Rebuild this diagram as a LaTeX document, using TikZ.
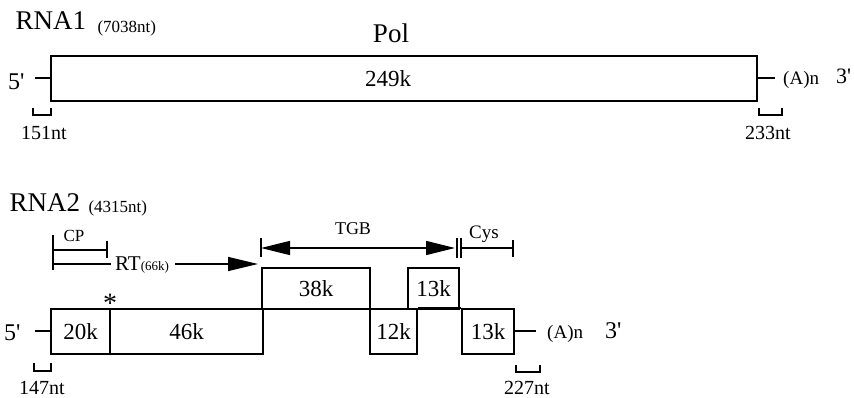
\documentclass[tikz,border=0pt]{standalone}
\usepackage{fontspec}
\setmainfont{Liberation Serif}
\usetikzlibrary{arrows.meta}
\newcommand\fsz[1]{\fontsize{#1}{#1}\selectfont}
\newcommand\pr{\textquotesingle}
\begin{document}
\begin{tikzpicture}[x=1pt,y=-1pt,
  bx/.style={draw,line width=1.6pt,inner sep=0pt,font=\fsz{23}},
  ln/.style={line width=1.3pt},
  tail/.style={line width=2.6pt},
  brk/.style={line width=1.6pt},
  big/.style={font=\fsz{27}},
  num/.style={font=\fsz{23}},
  sml/.style={font=\fsz{17}},
  ntl/.style={font=\fsz{20},inner sep=0pt},
  arr/.style={ln,-{Triangle[length=30pt,width=14pt]}},
  darr/.style={ln,{Triangle[length=29pt,width=14pt]}-{Triangle[length=29pt,width=14pt]}}]
\useasboundingbox (0,0) rectangle (854,398);
% ---------- RNA1 ----------
\node[big,anchor=base west] (t1) at (12,30) {RNA1};
\node[sml,anchor=base west] (t1n) at (94,33) {(7038nt)};
\node[big,anchor=base] (pol) at (391,43) {Pol};
\node[bx,minimum width=706,minimum height=45] (r1) at (404,78.5) {};
\node[num,anchor=base] (r1l) at (388,87) {249k};
\node[font=\fsz{24},anchor=base west,inner sep=0pt] (r1f) at (8,90) {5\pr};
\coordinate (r1fd) at (35,78);
\draw[tail] (r1fd) -- (r1fd -| r1.west);
\coordinate (r1td) at (775,78);
\draw[tail] (r1td -| r1.east) -- (r1td);
\node[font=\fsz{19},anchor=base west,inner sep=0pt] (r1a) at (783,85) {(A)n};
\node[font=\fsz{22},anchor=base west,inner sep=0pt] (r13) at (836,84) {3\pr};
\draw[brk] (33,108) -- (33,115) -- (51,115) -- (51,108);
\node[ntl,anchor=base] (r1b5) at (44,140) {151nt};
\draw[brk] (759,108) -- (759,115) -- (782,115) -- (782,108);
\node[ntl,anchor=base] (r1b3) at (768,140) {233nt};
% ---------- RNA2 ----------
\node[big,anchor=base west] (t2) at (6,212) {RNA2};
\node[sml,anchor=base west] (t2n) at (85,213) {(4315nt)};
% CP / RT
\coordinate (cpA) at (53,235);
\coordinate (cpB) at (53,270);
\draw[ln] (cpA) -- (cpB);
\coordinate (cpS) at (53,250);
\coordinate (cpE) at (107,250);
\draw[ln] (cpS) -- (cpE);
\draw[ln] (107,241) -- (107,258);
\node[sml,anchor=base] (cp) at (74,242) {CP};
\node[font=\fsz{21},anchor=base west,inner sep=0pt] (rt) at (115,270) {RT{\fsz{13}(66k)}};
\coordinate (rtS) at (53,264);
\coordinate (rtE) at (258,264);
\draw[ln] (rtS) -- ([xshift=-4pt]rt.west |- rtS);
\draw[arr] ([xshift=6pt]rt.east |- rtE) -- (rtE);
% TGB
\coordinate (tgL) at (261,248);
\coordinate (tgR) at (455,248);
\draw[ln] (261,238) -- (261,257);
\draw[darr] (tgL) -- (tgR);
\node[font=\fsz{18},anchor=base] (tgb) at (353,235) {TGB};
% Cys
\draw[ln] (457,238) -- (457,258);
\draw[ln] (461,238) -- (461,258);
\coordinate (cyL) at (461,248);
\coordinate (cyR) at (513,248);
\draw[ln] (cyL) -- (cyR);
\draw[ln] (513,240) -- (513,257);
\node[font=\fsz{19},anchor=base] (cys) at (484,238) {Cys};
% boxes
\node[bx,minimum width=108,minimum height=41] (b38) at (316,288.5) {38k};
\node[bx,minimum width=51,minimum height=41] (b13u) at (433.5,288.5) {13k};
\node[bx,minimum width=59,minimum height=45] (b20) at (80.5,331.5) {20k};
\node[bx,minimum width=153,minimum height=45] (b46) at (186.5,331.5) {46k};
\node[bx,minimum width=47,minimum height=45] (b12) at (393.5,331.5) {12k};
\node[bx,minimum width=52,minimum height=45] (b13l) at (488,331.5) {13k};
\draw[line width=1.6pt] (b12.north east) -- (b13l.north west);
\node[font=\fsz{28},anchor=base] (ast) at (110,312) {*};
% ends
\node[font=\fsz{24},anchor=base west,inner sep=0pt] (r2f) at (4,340) {5\pr};
\coordinate (r2fd) at (35,331);
\draw[tail] (r2fd) -- (r2fd -| b20.west);
\coordinate (r2td) at (536,331);
\draw[tail] (r2td -| b13l.east) -- (r2td);
\node[font=\fsz{19},anchor=base west,inner sep=0pt] (r2a) at (547,338) {(A)n};
\node[font=\fsz{24},anchor=base west,inner sep=0pt] (r23) at (605,338) {3\pr};
\draw[brk] (34,363) -- (34,371) -- (51,371) -- (51,363);
\node[ntl,anchor=base] (r2b5) at (42,394) {147nt};
\draw[brk] (516,365) -- (516,372) -- (540,372) -- (540,365);
\node[ntl,anchor=base] (r2b3) at (527,394) {227nt};
\end{tikzpicture}
\end{document}
